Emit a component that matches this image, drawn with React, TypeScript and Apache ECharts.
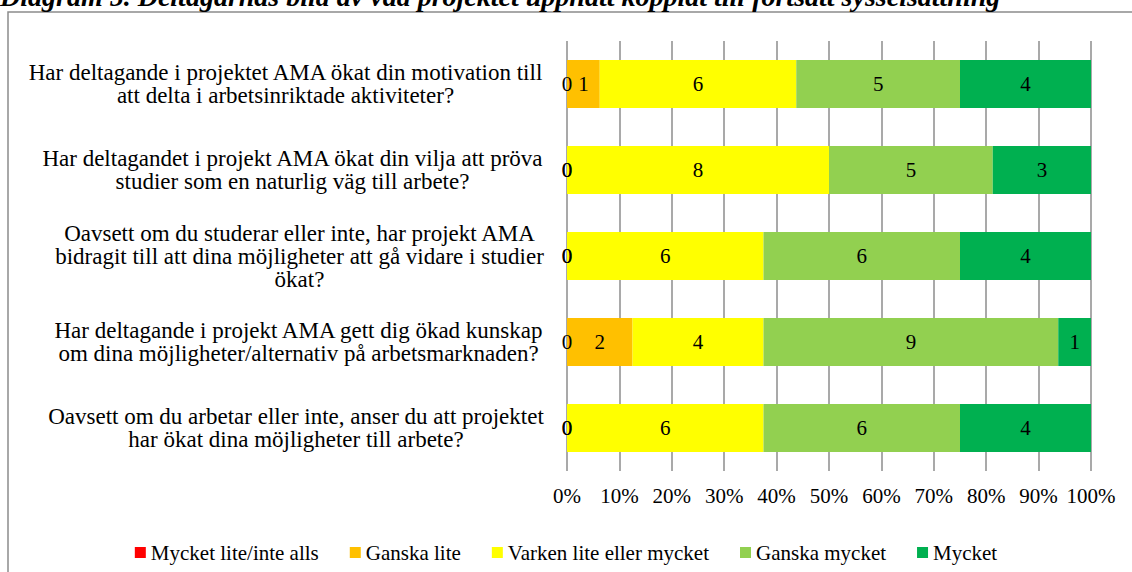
import React, { useEffect, useRef } from "react";
import * as echarts from "echarts";

const title =
  "Diagram 5. Deltagarnas bild av vad projektet uppnått kopplat till fortsatt sysselsättning";

const categories = [
  "Har deltagande i projektet AMA ökat din motivation till\natt delta i arbetsinriktade aktiviteter?",
  "Har deltagandet i projekt AMA ökat din vilja att pröva\nstudier som en naturlig väg till arbete?",
  "Oavsett om du studerar eller inte, har projekt AMA\nbidragit till att dina möjligheter att gå vidare i studier\nökat?",
  "Har deltagande i projekt AMA gett dig ökad kunskap\nom dina möjligheter/alternativ på arbetsmarknaden?",
  "Oavsett om du arbetar eller inte, anser du att projektet\nhar ökat dina möjligheter till arbete?",
];

const seriesNames = [
  "Mycket lite/inte alls",
  "Ganska lite",
  "Varken lite eller mycket",
  "Ganska mycket",
  "Mycket",
];

const mycketLite = [0, 0, 0, 0, 0];
const ganskaLite = [1, 0, 0, 2, 0];
const varken = [6, 8, 6, 4, 6];
const ganskaMycket = [5, 5, 6, 9, 6];
const mycket = [4, 3, 4, 1, 4];

const colors = ["#FF0000", "#FFC000", "#FFFF00", "#92D050", "#00B050"];

const xTicks = [0, 10, 20, 30, 40, 50, 60, 70, 80, 90, 100];

const FONT = "'Liberation Serif', 'DejaVu Serif', serif";

function measure(text: string, size: number): number {
  const c = document.createElement("canvas");
  const ctx = c.getContext("2d");
  if (!ctx) return text.length * size * 0.45;
  ctx.font = `${size}px 'Liberation Serif'`;
  return ctx.measureText(text).width;
}

export default function App() {
  const ref = useRef<HTMLDivElement>(null);

  useEffect(() => {
    document.body.style.margin = "0";
    if (!ref.current) return;
    const chart = echarts.init(ref.current, undefined, { renderer: "svg" });

    const counts = [mycketLite, ganskaLite, varken, ganskaMycket, mycket];
    const totals = categories.map((_, i) =>
      counts.reduce((s, arr) => s + arr[i], 0)
    );

    const labelSize = 23;
    const rich: Record<string, any> = {};
    categories.forEach((cat, i) => {
      const w = Math.max(...cat.split("\n").map((l) => measure(l, labelSize)));
      rich["r" + i] = {
        width: Math.ceil(w) + 2,
        align: "center",
        fontFamily: FONT,
        fontSize: labelSize,
        color: "#000",
        lineHeight: 23,
      };
    });

    const series = counts.map((arr, si) => ({
      name: seriesNames[si],
      type: "bar",
      stack: "total",
      barWidth: 48,
      itemStyle: { color: colors[si] },
      label: {
        show: true,
        position: "inside",
        color: "#000",
        fontFamily: FONT,
        fontSize: 21,
        formatter: (p: any) => String(arr[p.dataIndex]),
      },
      data: arr.map((v, i) => (v / totals[i]) * 100),
    }));

    chart.setOption({
      animation: false,
      backgroundColor: "#fff",
      textStyle: { fontFamily: FONT },
      graphic: [
        {
          type: "rect",
          shape: { x: 8, y: 12, width: 1200, height: 700 },
          style: { fill: "none", stroke: "#8c8c8c", lineWidth: 1.5 },
          silent: true,
          z: -1,
        },
        {
          type: "text",
          x: 0,
          y: 10,
          style: {
            text: title,
            fontFamily: FONT,
            fontSize: 28,
            fontWeight: "bold",
            fontStyle: "italic",
            fill: "#000",
            textVerticalAlign: "bottom",
          },
        },
      ],
      legend: {
        bottom: 4,
        left: "center",
        itemWidth: 11,
        itemHeight: 11,
        itemGap: 31,
        icon: "rect",
        textStyle: { fontFamily: FONT, fontSize: 21, color: "#000" },
        data: seriesNames,
      },
      grid: { left: 567, right: 41, top: 41, bottom: 101 },
      xAxis: {
        type: "value",
        min: 0,
        max: 100,
        interval: 10,
        axisLine: { show: false },
        axisTick: { show: false },
        splitLine: { show: true, lineStyle: { color: "#8c8c8c", width: 1.5 } },
        axisLabel: {
          margin: 14,
          color: "#000",
          fontFamily: FONT,
          fontSize: 21,
          formatter: (v: number) => (xTicks.includes(v) ? `${v}%` : ""),
        },
      },
      yAxis: {
        type: "category",
        inverse: true,
        data: categories,
        axisLine: { show: false },
        axisTick: { show: false },
        axisLabel: {
          margin: 22,
          align: "right",
          rich,
          formatter: (value: string, index: number) =>
            value
              .split("\n")
              .map((l) => `{r${index}|${l}}`)
              .join("\n"),
        },
      },
      series,
    });

    return () => chart.dispose();
  }, []);

  return (
    <div
      ref={ref}
      style={{ position: "fixed", left: 0, top: 0, width: 1132, height: 572 }}
    />
  );
}
